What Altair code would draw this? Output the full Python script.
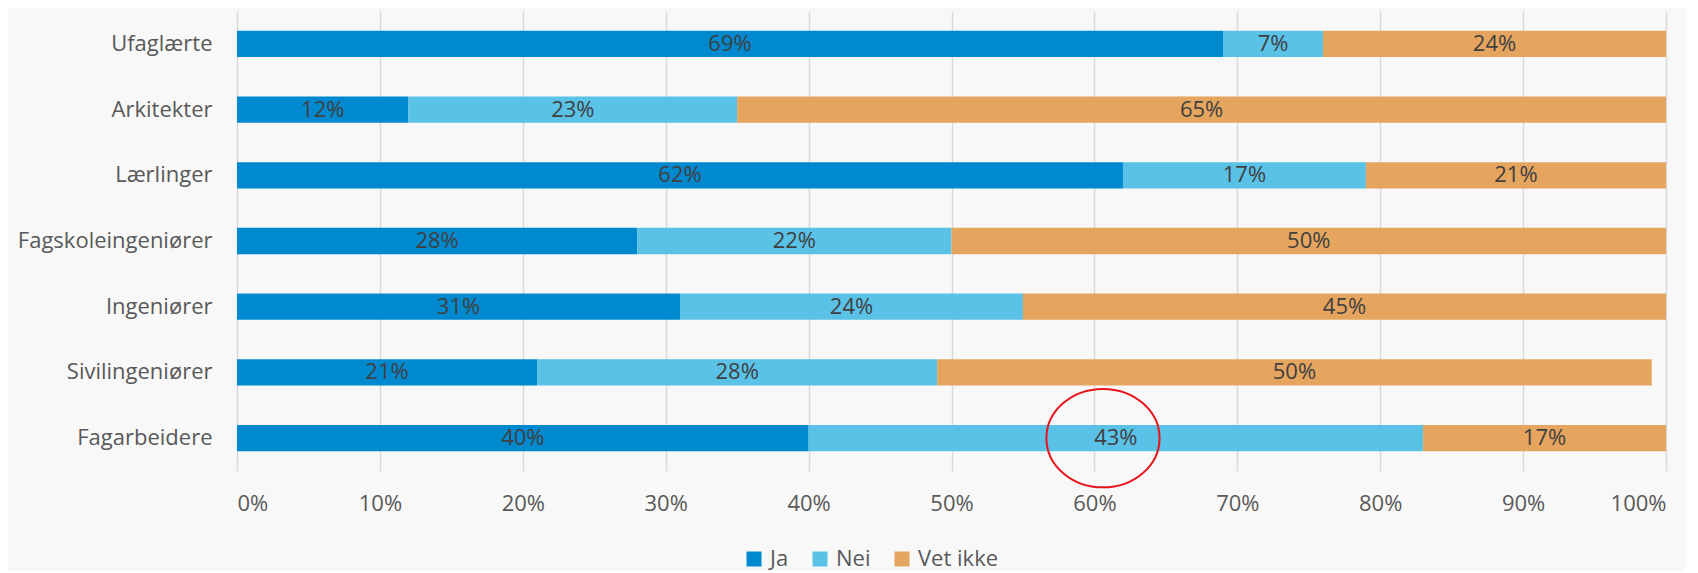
import altair as alt
import pandas as pd

groups = ["Ufaglærte", "Arkitekter", "Lærlinger", "Fagskoleingeniører",
          "Ingeniører", "Sivilingeniører", "Fagarbeidere"]
answers = ["Ja", "Nei", "Vet ikke"]
ja = [69, 12, 62, 28, 31, 21, 40]
nei = [7, 23, 17, 22, 24, 28, 43]
vet_ikke = [24, 65, 21, 50, 45, 50, 17]
colors = ["#0089CF", "#5BC2E7", "#E6A55E"]
x_ticks = [0, 10, 20, 30, 40, 50, 60, 70, 80, 90, 100]

# annotation (red ellipse around the 43% label)
ann_group = ["Fagarbeidere"]
ann_x = [60.6]

rows = []
for i, g in enumerate(groups):
    start = 0
    for a, vals in zip(answers, [ja, nei, vet_ikke]):
        v = vals[i]
        rows.append(dict(group=g, answer=a, value=v, start=start, end=start + v,
                         mid=start + v / 2, label=f"{v}%"))
        start += v
df = pd.DataFrame(rows)
ann = pd.DataFrame({"group": ann_group, "x": ann_x})

FONT = "Open Sans"
FS = 22

yenc = alt.Y("group:N", sort=groups, title=None,
             scale=alt.Scale(paddingInner=0.6, paddingOuter=0.3),
             axis=alt.Axis(domain=False, ticks=False, labelFontSize=FS,
                           labelColor="#595959", labelPadding=25, labelFont=FONT,
                           labelLimit=400))
xscale = alt.Scale(domain=[0, 100], nice=False)

bars = alt.Chart(df).mark_bar().encode(
    x=alt.X("start:Q", scale=xscale, title=None,
            axis=alt.Axis(values=x_ticks, labelExpr="datum.value + '%'",
                          domain=False, ticks=False, grid=True,
                          gridColor="#D9D9D9", gridWidth=1.5,
                          labelFontSize=FS, labelColor="#595959",
                          labelPadding=22, labelFont=FONT)),
    x2="end:Q",
    y=yenc,
    color=alt.Color("answer:N", scale=alt.Scale(domain=answers, range=colors),
                    legend=alt.Legend(orient="none", legendX=506, legendY=537,
                                      direction="horizontal", title=None,
                                      symbolType="square", symbolSize=225,
                                      symbolStrokeWidth=0,
                                      labelFontSize=FS, labelColor="#595959",
                                      labelFont=FONT, columnPadding=20,
                                      labelOffset=5)),
)

texts = alt.Chart(df).mark_text(fontSize=FS, color="#404040", font=FONT,
                                baseline="middle").encode(
    x=alt.X("mid:Q", scale=xscale),
    y=alt.Y("group:N", sort=groups),
    text="label:N",
)

ellipse_path = "M-1,0A1,0.87 0 1,1 1,0A1,0.87 0 1,1 -1,0Z"
circle = alt.Chart(ann).mark_point(shape=ellipse_path, size=12800, filled=False,
                                   color="#E8141B", strokeWidth=2, opacity=1).encode(
    x=alt.X("x:Q", scale=xscale),
    y=alt.Y("group:N", sort=groups),
)

chart = alt.layer(bars, texts, circle).properties(
    width=1429, height=460,
    autosize=alt.AutoSizeParams(type="none"),
    padding={"left": 229, "top": 3, "right": 20, "bottom": 100},
    background="#F8F8F8",
).configure_view(stroke=None)

chart.save("out.html", embed_options={"renderer": "svg", "actions": False})
